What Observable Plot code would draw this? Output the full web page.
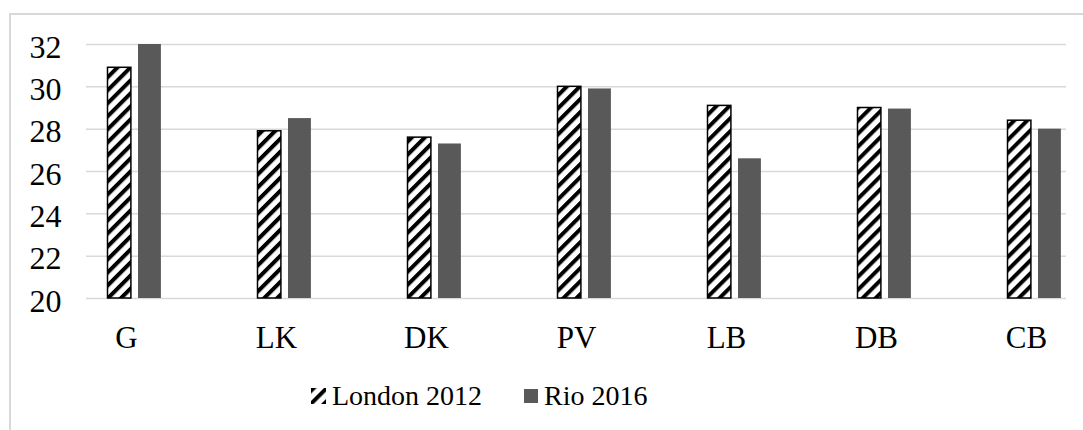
<!DOCTYPE html>
<html><head><meta charset="utf-8">
<script src="https://cdn.jsdelivr.net/npm/d3@7"></script>
<script src="https://cdn.jsdelivr.net/npm/@observablehq/plot@0.6"></script>
<style>
body{margin:0;background:#fff;width:1083px;height:430px;overflow:hidden;position:relative;font-family:"Liberation Serif","Times New Roman",serif;}
#frame{position:absolute;left:9px;top:13px;width:1100px;height:450px;border-left:2px solid #d9d9d9;border-top:2px solid #d9d9d9;pointer-events:none;box-sizing:border-box;}
#chart{position:absolute;left:0;top:0;}
#legend{position:absolute;left:311px;top:379px;height:34px;line-height:34px;font-size:28px;display:flex;align-items:center;color:#000;white-space:nowrap;}
#legend .sw{display:inline-block;margin-right:6px;}
</style></head>
<body>
<div id="chart"></div>
<div id="frame"></div>
<div id="legend"></div>
<script>
const categories = ["G", "LK", "DK", "PV", "LB", "DB", "CB"];
const london2012 = [30.9, 27.9, 27.6, 30.0, 29.1, 29.0, 28.4];
const rio2016 = [32.0, 28.5, 27.3, 29.9, 26.6, 28.95, 28.0];
const seriesNames = ["London 2012", "Rio 2016"];
const yTicks = [20, 22, 24, 26, 28, 30, 32];
const yMin = 20;

const rows = [];
categories.forEach((c, i) => {
  rows.push({cat: c, series: seriesNames[0], value: london2012[i]});
  rows.push({cat: c, series: seriesNames[1], value: rio2016[i]});
});

const bw = (1102.9 - 48.7) / categories.length;

const svg = Plot.plot({
  width: 1083,
  height: 360,
  marginLeft: 86,
  marginRight: 17,
  marginTop: 44,
  marginBottom: 62,
  style: {fontFamily: "'Liberation Serif', 'Times New Roman', serif", fontSize: "30px", color: "#000", background: "transparent", overflow: "visible"},
  x: {domain: categories, range: [48.7, 1102.9], padding: 0, label: null},
  y: {domain: [yTicks[0], yTicks[yTicks.length - 1]], label: null},
  marks: [
    Plot.ruleY(yTicks, {stroke: "#d9d9d9", strokeWidth: 1.5}),
    Plot.barY(rows.filter(d => d.series === seriesNames[0]), {
      x: "cat", y1: () => yMin, y2: "value",
      fill: "url(#hatch)", stroke: "#000", strokeWidth: 1.5,
      insetLeft: 56.5, insetRight: bw - 56.5 - 24
    }),
    Plot.barY(rows.filter(d => d.series === seriesNames[1]), {
      x: "cat", y1: () => yMin, y2: "value",
      fill: "#595959",
      insetLeft: 87, insetRight: bw - 87 - 23.5
    }),
    Plot.axisY(yTicks, {tickSize: 0, tickPadding: 25, dy: 3, fill: "#000", fontSize: 32, label: null}),
    Plot.axisX({tickSize: 0, tickPadding: 27, fill: "#000", fontSize: 31, label: null})
  ]
});

const defs = `<defs>
<pattern id="hatch" patternUnits="userSpaceOnUse" width="9.2" height="9.2" patternTransform="rotate(45)">
<rect x="0" y="0" width="9.2" height="9.2" fill="#fff"/>
<rect x="0" y="0" width="4" height="9.2" fill="#000"/>
</pattern></defs>`;
d3.select(svg).insert("g", ":first-child").html(defs);
document.getElementById("chart").appendChild(svg);

const legend = d3.select("#legend");
const l1 = legend.append("span").style("display", "inline-flex").style("align-items", "center").style("margin-right", "42px");
l1.append("svg").attr("class", "sw").attr("width", 15).attr("height", 16)
  .append("rect").attr("width", 15).attr("height", 16).attr("fill", "url(#hatch)");
l1.append("span").text(seriesNames[0]);
const l2 = legend.append("span").style("display", "inline-flex").style("align-items", "center");
l2.append("svg").attr("class", "sw").attr("width", 14).attr("height", 14)
  .append("rect").attr("width", 14).attr("height", 14).attr("fill", "#595959");
l2.append("span").text(seriesNames[1]);
</script>
</body></html>
